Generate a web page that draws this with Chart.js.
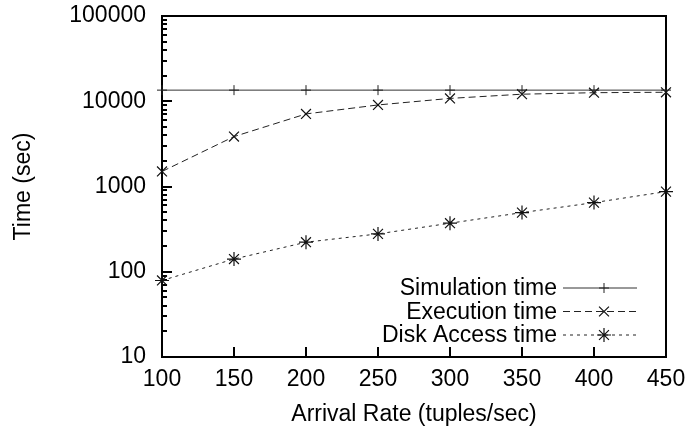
<!DOCTYPE html>
<html>
<head>
<meta charset="utf-8">
<script src="https://cdn.jsdelivr.net/npm/chart.js"></script>
<style>
  html, body { margin: 0; padding: 0; background: #fff; }
  #wrap { width: 689px; height: 431px; }
</style>
</head>
<body>
<div id="wrap"><canvas id="myChart" width="689" height="431"></canvas></div>

<script>
    // arrival rate (tuples/sec) on x, times in seconds on a log y axis
    const arrivalRates = [100, 150, 200, 250, 300, 350, 400, 450];
    const simulationTime = [13500, 13500, 13500, 13500, 13500, 13500, 13500, 13500];
    const executionTime = [1500, 3850, 7100, 9050, 10800, 12100, 12600, 12750];
    const diskAccessTime = [79, 141, 222, 278, 371, 494, 647, 871];
    const seriesLabels = ['Simulation time', 'Execution time', 'Disk Access time'];
    const yTickValues = [10, 100, 1000, 10000, 100000];

    const FONT = "'Liberation Sans', Arial, Helvetica, sans-serif";
    Chart.defaults.font.family = FONT;
    Chart.defaults.font.size = 23;
    Chart.defaults.color = '#000';

    function points(values) {
        return arrivalRates.map((x, i) => ({ x: x, y: values[i] }));
    }

    // gnuplot style frame: box border plus inward ticks on left and bottom
    const frame = {
        id: 'frame',
        beforeDatasetsDraw(chart) {
            const { ctx, chartArea: a, scales } = chart;
            const x = scales.x, y = scales.y;
            ctx.save();
            ctx.strokeStyle = '#000';
            ctx.lineWidth = 2;
            ctx.beginPath();
            for (let i = 0; i < yTickValues.length - 1; i++) {
                for (let k = 1; k <= 9; k++) {
                    const py = Math.round(y.getPixelForValue(yTickValues[i] * k));
                    const len = k === 1 ? 10 : 5;
                    ctx.moveTo(a.left, py);
                    ctx.lineTo(a.left + len, py);
                }
            }
            x.ticks.forEach(t => {
                const px = Math.round(x.getPixelForValue(t.value));
                ctx.moveTo(px, a.bottom);
                ctx.lineTo(px, a.bottom - 10);
            });
            ctx.stroke();
            ctx.strokeRect(Math.round(a.left), Math.round(a.top),
                           Math.round(a.width), Math.round(a.height));
            ctx.restore();
        }
    };

    // key in the lower right corner: label, then line sample with its marker
    const key = {
        id: 'key',
        afterDatasetsDraw(chart) {
            const { ctx, chartArea: a } = chart;
            const sets = chart.data.datasets;
            ctx.save();
            ctx.font = '23px ' + FONT;
            ctx.textAlign = 'right';
            ctx.textBaseline = 'middle';
            sets.forEach((ds, i) => {
                const rowY = a.bottom - 22 - (sets.length - 1 - i) * 23.5;
                ctx.fillStyle = '#000';
                ctx.fillText(ds.label, a.right - 109, rowY + 1);
                ctx.strokeStyle = ds.borderColor;
                ctx.lineWidth = ds.borderWidth;
                ctx.setLineDash(ds.borderDash || []);
                ctx.beginPath();
                ctx.moveTo(a.right - 103, rowY);
                ctx.lineTo(a.right - 29, rowY);
                ctx.stroke();
                ctx.setLineDash([]);
                ctx.strokeStyle = ds.pointBorderColor;
                ctx.lineWidth = ds.pointBorderWidth;
                Chart.helpers.drawPoint(ctx, {
                    pointStyle: ds.pointStyle,
                    radius: ds.pointRadius,
                    borderWidth: ds.pointBorderWidth,
                    rotation: 0
                }, a.right - 62, rowY);
            });
            ctx.restore();
        }
    };

    const ctx = document.getElementById('myChart');
    const myChart = new Chart(ctx, {
        type: 'line',
        data: {
            datasets: [{
                label: seriesLabels[0],
                data: points(simulationTime),
                borderColor: '#333',
                borderWidth: 1,
                pointStyle: 'cross',
                pointRadius: 5,
                pointBorderWidth: 1,
                pointBorderColor: '#222',
                clip: false
            }, {
                label: seriesLabels[1],
                data: points(executionTime),
                borderColor: '#222',
                borderWidth: 1,
                borderDash: [7, 4],
                pointStyle: 'crossRot',
                pointRadius: 7,
                pointBorderWidth: 1.2,
                pointBorderColor: '#111',
                clip: false
            }, {
                label: seriesLabels[2],
                data: points(diskAccessTime),
                borderColor: '#222',
                borderWidth: 1,
                borderDash: [3, 4],
                pointStyle: 'star',
                pointRadius: 7,
                pointBorderWidth: 1.2,
                pointBorderColor: '#111',
                clip: false
            }]
        },
        options: {
            responsive: false,
            animation: false,
            layout: { padding: { top: 16, right: 23, left: 0, bottom: 0 } },
            plugins: {
                legend: { display: false },
                tooltip: { enabled: false }
            },
            elements: { line: { tension: 0, fill: false } },
            scales: {
                x: {
                    type: 'linear',
                    min: 100,
                    max: 450,
                    ticks: { stepSize: 50, padding: 9, autoSkip: false, maxRotation: 0 },
                    grid: { display: false, drawTicks: false },
                    border: { display: false },
                    title: {
                        display: true,
                        text: 'Arrival Rate (tuples/sec)',
                        padding: { top: 0, bottom: 3 }
                    },
                    afterFit: s => {
                        s.height = 74;
                        s.paddingLeft = 0;
                        s.paddingRight = 0;
                    }
                },
                y: {
                    type: 'logarithmic',
                    min: 10,
                    max: 100000,
                    afterBuildTicks: s => { s.ticks = yTickValues.map(v => ({ value: v })); },
                    ticks: { callback: v => String(v), padding: 16, autoSkip: false },
                    grid: { display: false, drawTicks: false },
                    border: { display: false },
                    title: {
                        display: true,
                        text: 'Time (sec)',
                        padding: { top: 10, bottom: 0 }
                    },
                    afterFit: s => {
                        s.width = 162;
                        s.paddingTop = 0;
                        s.paddingBottom = 0;
                    }
                }
            }
        },
        plugins: [frame, key]
    });
</script>
</body>
</html>
